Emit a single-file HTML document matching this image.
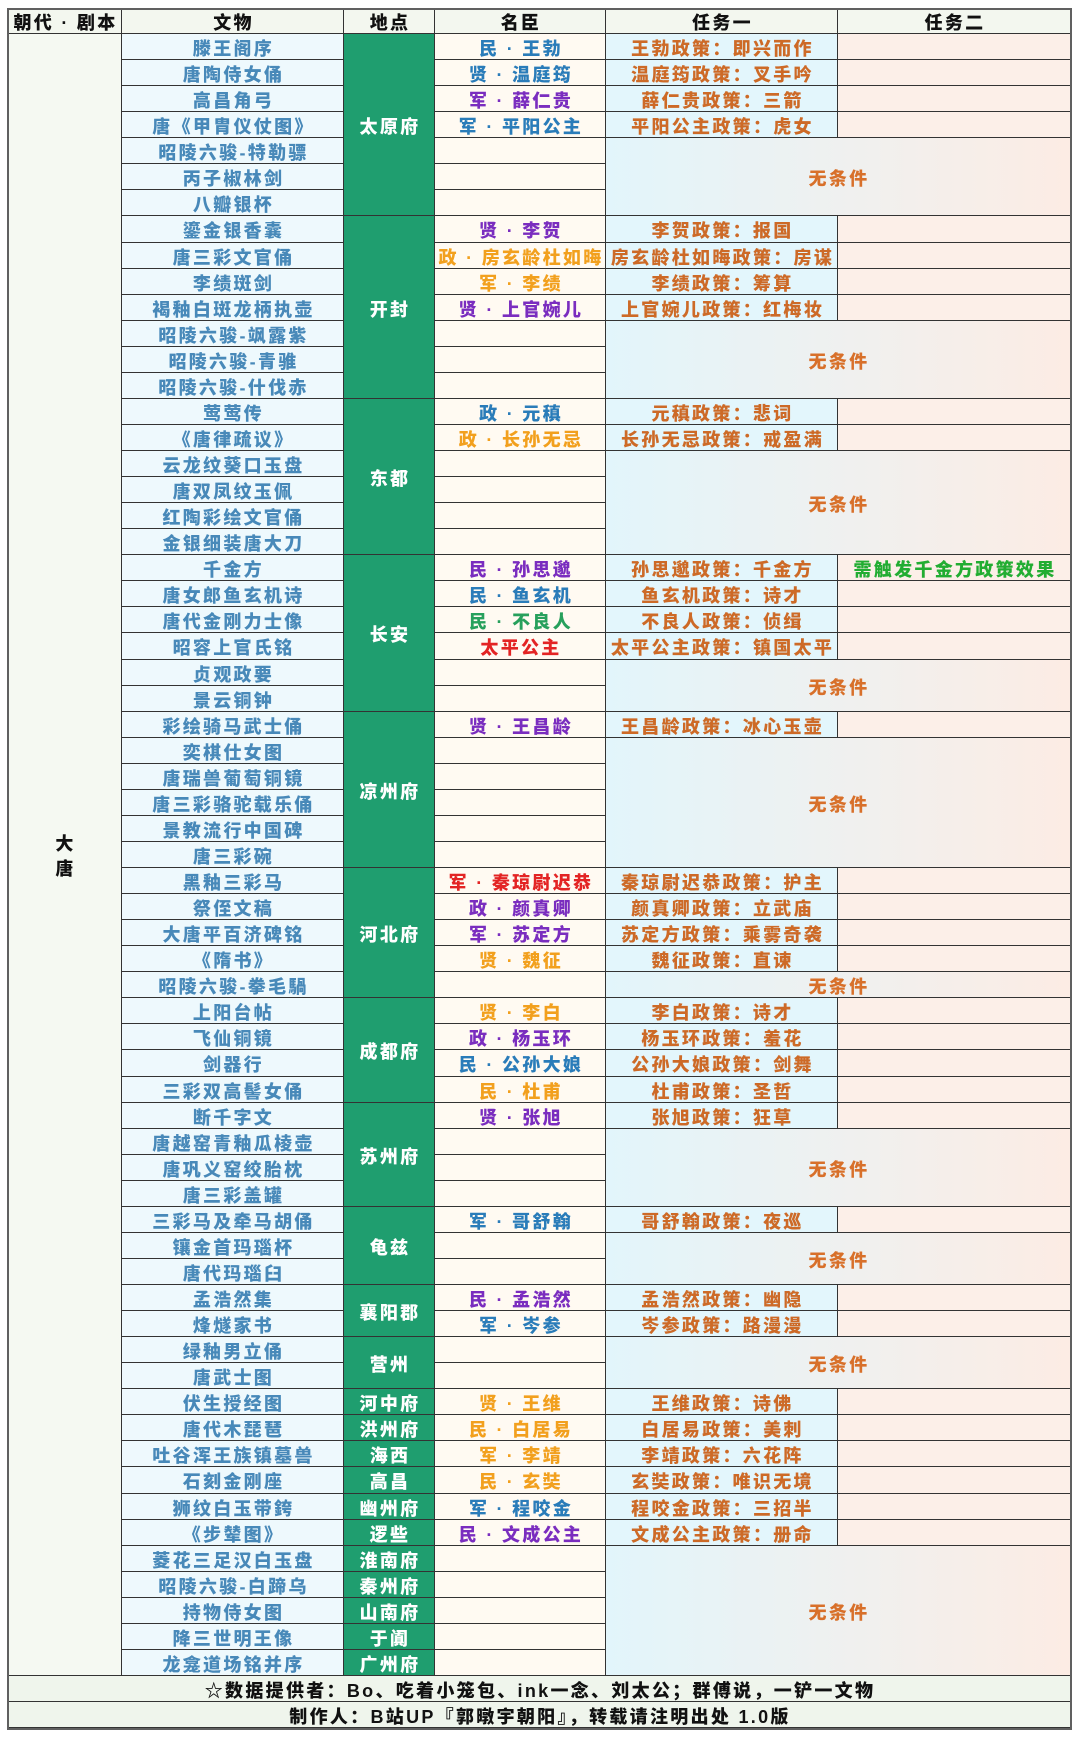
<!DOCTYPE html>
<html><head><meta charset="utf-8">
<style>
html,body{margin:0;padding:0;background:#fff;}
body{width:1080px;height:1738px;position:relative;overflow:hidden;font-family:"Liberation Sans","Noto Sans CJK SC",sans-serif;font-weight:900;}
.g{position:absolute;left:8px;top:9px;display:grid;grid-template-columns:114px 222px 91px 171px 232px 233px;grid-template-rows:25px repeat(63,26.07px) 25.6px 26.4px;}
.g>div{box-sizing:border-box;border-right:1px solid #333;border-bottom:1px solid #333;display:flex;align-items:center;justify-content:center;white-space:nowrap;font-size:18px;letter-spacing:2.3px;padding-left:2px;padding-top:5px;line-height:1;}
.g>div.h{padding-top:3px;}
.h{background:#f3f7ef;color:#111;}
.h1{grid-column:1}.h2{grid-column:2}.h3{grid-column:3}.h4{grid-column:4}.h5{grid-column:5}.h6{grid-column:6}
.d{grid-column:1;grid-row:span 63;background:#f5f9f2;color:#111;flex-direction:column;line-height:25px !important;}
.w{grid-column:2;background:#eef9fd;color:#4889b9;}
.p{grid-column:3;background:#1f9e6f;color:#fff;}
.m{grid-column:4;background:#fffaf2;}
.t1{grid-column:5;background:#e3f6fc;color:#cd6a27;}
.t2{grid-column:6;background:#fcefe8;}
.n{grid-column:5/7;background:linear-gradient(to right,#e2f5fb,#fcece4);color:#d8702a;}
.f{grid-column:1/7;background:#eff5ec;color:#111;}
.b{color:#2a7cb9}.pu{color:#7a2dbf}.o{color:#f2a01e}.gr{color:#27a05c}.r{color:#e32424}
.gt{color:#22ad32;}
.frame{position:absolute;left:7px;top:8px;width:1065px;height:1722px;box-sizing:border-box;border:2px solid #606060;pointer-events:none;}
</style></head>
<body>
<div class="g">
<div class="h h1">朝代 · 剧本</div><div class="h h2">文物</div><div class="h h3">地点</div><div class="h h4">名臣</div><div class="h h5">任务一</div><div class="h h6">任务二</div>

<div class="d">大<br>唐</div>
<div class="w">滕王阁序</div><div class="p" style="grid-row:span 7">太原府</div><div class="m b">民 · 王勃</div><div class="t1">王勃政策：即兴而作</div><div class="t2"></div>
<div class="w">唐陶侍女俑</div><div class="m b">贤 · 温庭筠</div><div class="t1">温庭筠政策：叉手吟</div><div class="t2"></div>
<div class="w">高昌角弓</div><div class="m pu">军 · 薛仁贵</div><div class="t1">薛仁贵政策：三箭</div><div class="t2"></div>
<div class="w">唐《甲胄仪仗图》</div><div class="m b">军 · 平阳公主</div><div class="t1">平阳公主政策：虎女</div><div class="t2"></div>
<div class="w">昭陵六骏-特勒骠</div><div class="m"></div><div class="n" style="grid-row:span 3">无条件</div>
<div class="w">丙子椒林剑</div><div class="m"></div>
<div class="w">八瓣银杯</div><div class="m"></div>

<div class="w">鎏金银香囊</div><div class="p" style="grid-row:span 7">开封</div><div class="m pu">贤 · 李贺</div><div class="t1">李贺政策：报国</div><div class="t2"></div>
<div class="w">唐三彩文官俑</div><div class="m o">政 · 房玄龄杜如晦</div><div class="t1">房玄龄杜如晦政策：房谋</div><div class="t2"></div>
<div class="w">李绩斑剑</div><div class="m o">军 · 李绩</div><div class="t1">李绩政策：筹算</div><div class="t2"></div>
<div class="w">褐釉白斑龙柄执壶</div><div class="m pu">贤 · 上官婉儿</div><div class="t1">上官婉儿政策：红梅妆</div><div class="t2"></div>
<div class="w">昭陵六骏-飒露紫</div><div class="m"></div><div class="n" style="grid-row:span 3">无条件</div>
<div class="w">昭陵六骏-青骓</div><div class="m"></div>
<div class="w">昭陵六骏-什伐赤</div><div class="m"></div>

<div class="w">莺莺传</div><div class="p" style="grid-row:span 6">东都</div><div class="m b">政 · 元稹</div><div class="t1">元稹政策：悲词</div><div class="t2"></div>
<div class="w">《唐律疏议》</div><div class="m o">政 · 长孙无忌</div><div class="t1">长孙无忌政策：戒盈满</div><div class="t2"></div>
<div class="w">云龙纹葵口玉盘</div><div class="m"></div><div class="n" style="grid-row:span 4">无条件</div>
<div class="w">唐双凤纹玉佩</div><div class="m"></div>
<div class="w">红陶彩绘文官俑</div><div class="m"></div>
<div class="w">金银细装唐大刀</div><div class="m"></div>

<div class="w">千金方</div><div class="p" style="grid-row:span 6">长安</div><div class="m pu">民 · 孙思邈</div><div class="t1">孙思邈政策：千金方</div><div class="t2 gt">需触发千金方政策效果</div>
<div class="w">唐女郎鱼玄机诗</div><div class="m b">民 · 鱼玄机</div><div class="t1">鱼玄机政策：诗才</div><div class="t2"></div>
<div class="w">唐代金刚力士像</div><div class="m gr">民 · 不良人</div><div class="t1">不良人政策：侦缉</div><div class="t2"></div>
<div class="w">昭容上官氏铭</div><div class="m r">太平公主</div><div class="t1">太平公主政策：镇国太平</div><div class="t2"></div>
<div class="w">贞观政要</div><div class="m"></div><div class="n" style="grid-row:span 2">无条件</div>
<div class="w">景云铜钟</div><div class="m"></div>

<div class="w">彩绘骑马武士俑</div><div class="p" style="grid-row:span 6">凉州府</div><div class="m pu">贤 · 王昌龄</div><div class="t1">王昌龄政策：冰心玉壶</div><div class="t2"></div>
<div class="w">奕棋仕女图</div><div class="m"></div><div class="n" style="grid-row:span 5">无条件</div>
<div class="w">唐瑞兽葡萄铜镜</div><div class="m"></div>
<div class="w">唐三彩骆驼载乐俑</div><div class="m"></div>
<div class="w">景教流行中国碑</div><div class="m"></div>
<div class="w">唐三彩碗</div><div class="m"></div>

<div class="w">黑釉三彩马</div><div class="p" style="grid-row:span 5">河北府</div><div class="m r">军 · 秦琼尉迟恭</div><div class="t1">秦琼尉迟恭政策：护主</div><div class="t2"></div>
<div class="w">祭侄文稿</div><div class="m pu">政 · 颜真卿</div><div class="t1">颜真卿政策：立武庙</div><div class="t2"></div>
<div class="w">大唐平百济碑铭</div><div class="m pu">军 · 苏定方</div><div class="t1">苏定方政策：乘雾奇袭</div><div class="t2"></div>
<div class="w">《隋书》</div><div class="m o">贤 · 魏征</div><div class="t1">魏征政策：直谏</div><div class="t2"></div>
<div class="w">昭陵六骏-拳毛騧</div><div class="m"></div><div class="n">无条件</div>

<div class="w">上阳台帖</div><div class="p" style="grid-row:span 4">成都府</div><div class="m o">贤 · 李白</div><div class="t1">李白政策：诗才</div><div class="t2"></div>
<div class="w">飞仙铜镜</div><div class="m pu">政 · 杨玉环</div><div class="t1">杨玉环政策：羞花</div><div class="t2"></div>
<div class="w">剑器行</div><div class="m b">民 · 公孙大娘</div><div class="t1">公孙大娘政策：剑舞</div><div class="t2"></div>
<div class="w">三彩双高髻女俑</div><div class="m o">民 · 杜甫</div><div class="t1">杜甫政策：圣哲</div><div class="t2"></div>

<div class="w">断千字文</div><div class="p" style="grid-row:span 4">苏州府</div><div class="m pu">贤 · 张旭</div><div class="t1">张旭政策：狂草</div><div class="t2"></div>
<div class="w">唐越窑青釉瓜棱壶</div><div class="m"></div><div class="n" style="grid-row:span 3">无条件</div>
<div class="w">唐巩义窑绞胎枕</div><div class="m"></div>
<div class="w">唐三彩盖罐</div><div class="m"></div>

<div class="w">三彩马及牵马胡俑</div><div class="p" style="grid-row:span 3">龟兹</div><div class="m b">军 · 哥舒翰</div><div class="t1">哥舒翰政策：夜巡</div><div class="t2"></div>
<div class="w">镶金首玛瑙杯</div><div class="m"></div><div class="n" style="grid-row:span 2">无条件</div>
<div class="w">唐代玛瑙臼</div><div class="m"></div>

<div class="w">孟浩然集</div><div class="p" style="grid-row:span 2">襄阳郡</div><div class="m pu">民 · 孟浩然</div><div class="t1">孟浩然政策：幽隐</div><div class="t2"></div>
<div class="w">烽燧家书</div><div class="m b">军 · 岑参</div><div class="t1">岑参政策：路漫漫</div><div class="t2"></div>

<div class="w">绿釉男立俑</div><div class="p" style="grid-row:span 2">营州</div><div class="m"></div><div class="n" style="grid-row:span 2">无条件</div>
<div class="w">唐武士图</div><div class="m"></div>

<div class="w">伏生授经图</div><div class="p">河中府</div><div class="m o">贤 · 王维</div><div class="t1">王维政策：诗佛</div><div class="t2"></div>
<div class="w">唐代木琵琶</div><div class="p">洪州府</div><div class="m o">民 · 白居易</div><div class="t1">白居易政策：美刺</div><div class="t2"></div>
<div class="w">吐谷浑王族镇墓兽</div><div class="p">海西</div><div class="m o">军 · 李靖</div><div class="t1">李靖政策：六花阵</div><div class="t2"></div>
<div class="w">石刻金刚座</div><div class="p">高昌</div><div class="m o">民 · 玄奘</div><div class="t1">玄奘政策：唯识无境</div><div class="t2"></div>
<div class="w">狮纹白玉带銙</div><div class="p">幽州府</div><div class="m b">军 · 程咬金</div><div class="t1">程咬金政策：三招半</div><div class="t2"></div>
<div class="w">《步辇图》</div><div class="p">逻些</div><div class="m pu">民 · 文成公主</div><div class="t1">文成公主政策：册命</div><div class="t2"></div>
<div class="w">菱花三足汉白玉盘</div><div class="p">淮南府</div><div class="m"></div><div class="n" style="grid-row:span 5">无条件</div>
<div class="w">昭陵六骏-白蹄乌</div><div class="p">秦州府</div><div class="m"></div>
<div class="w">持物侍女图</div><div class="p">山南府</div><div class="m"></div>
<div class="w">降三世明王像</div><div class="p">于阗</div><div class="m"></div>
<div class="w">龙龛道场铭并序</div><div class="p">广州府</div><div class="m"></div>

<div class="f">☆数据提供者：Bo、吃着小笼包、ink一念、刘太公；群傅说，一铲一文物</div>
<div class="f">制作人：B站UP『郭暾宇朝阳』，转载请注明出处 1.0版</div>
</div>
<div class="frame"></div>
</body></html>
